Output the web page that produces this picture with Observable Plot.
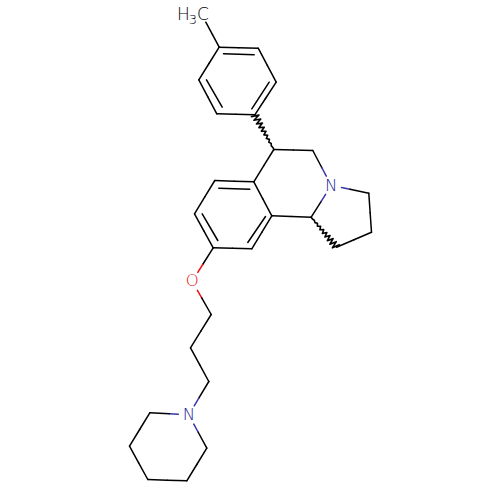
<!DOCTYPE html>
<html>
<head>
<meta charset="utf-8">
<style>html,body{margin:0;padding:0;background:#fff}</style>
<script src="https://cdn.jsdelivr.net/npm/d3@7"></script>
<script src="https://cdn.jsdelivr.net/npm/@observablehq/plot@0.6"></script>
</head>
<body>
<div id="chart"></div>
<script>
// Atoms (image coordinates)
const atomIds = ["Me","a1","a2","a3","a4","a5","a6","c6","c5","n1","c3","c2","c1","c10b","c10a","c6a","c7","c8","c9","c10","o","p1","p2","p3","n2","q1","q2","q3","q4","q5"];
const atomX = [205.3,218.7,257.7,275.7,254.3,216.3,198.3,273.3,312.3,330.7,368.3,371,336,310.7,271.3,253.3,214.3,194,212.7,251.3,191.7,210.7,190,208.3,188.3,149.3,129,147.3,186.3,206.3];
const atomY = [21.7,46.7,47.7,81.7,114.3,113.3,79.3,149,150,185,192.7,231.7,246.7,216.7,215.3,181.3,180,213.3,247.3,248.3,280.7,314,347.3,381,414.3,412.3,445.7,479,480.3,447.7];
const bondPairs = [
  ["Me","a1"],["a1","a2"],["a2","a3"],["a3","a4"],["a4","a5"],["a5","a6"],["a6","a1"],
  ["c6","c5"],["c5","n1"],["n1","c3"],["c3","c2"],["c2","c1"],["c10b","n1"],
  ["c10b","c10a"],["c10a","c6a"],["c6a","c6"],["c6a","c7"],["c7","c8"],["c8","c9"],["c9","c10"],["c10","c10a"],
  ["c9","o"],["o","p1"],["p1","p2"],["p2","p3"],["p3","n2"],
  ["n2","q1"],["q1","q2"],["q2","q3"],["q3","q4"],["q4","q5"],["q5","n2"]
];
const hashedPairs = [["c6","a4"],["c10b","c1"]];
// Inner lines of double bonds: x1, y1, x2, y2
const innerX1 = [223,206,268.7,218.3,201.7,265];
const innerY1 = [53.3,79.3,81.7,187.7,213.3,216];
const innerX2 = [253.7,221.7,251.3,249.3,217.3,247.3];
const innerY2 = [54.3,106.7,108.3,188.7,240,242];
const labelAtoms = ["n1","o","n2"];
const labelText = ["N","O","N"];
const labelColor = ["#1c1c98","#f00000","#1c1c98"];
const methylParts = ["H","3","C"];
const methylX = [183,192.5,202.5];
const methylY = [14.5,19.5,14.5];
const methylSize = [17,13,17];

const INK = "#000000";
const atom = Object.fromEntries(atomIds.map((id,i)=>[id,{x:atomX[i],y:atomY[i]}]));
const colorOf = Object.fromEntries(labelAtoms.map((id,i)=>[id,labelColor[i]]));
const lineColor = {n1:"#3636a8",n2:"#3636a8",o:"#f01010"};
const GAP = 10.5;
const segments = [];
function endpoint(from,to){
  const dx=to.x-from.x, dy=to.y-from.y, d=Math.hypot(dx,dy);
  return {x:from.x+dx*GAP/d,y:from.y+dy*GAP/d};
}
for (const [a,b] of bondPairs){
  const A=atom[a],B=atom[b],m={x:(A.x+B.x)/2,y:(A.y+B.y)/2};
  const sa=colorOf[a]?endpoint(A,B):A;
  const sb=colorOf[b]?endpoint(B,A):B;
  segments.push({x1:sa.x,y1:sa.y,x2:m.x,y2:m.y,c:lineColor[a]||INK});
  segments.push({x1:m.x,y1:m.y,x2:sb.x,y2:sb.y,c:lineColor[b]||INK});
}
innerX1.forEach((_,i)=>segments.push({x1:innerX1[i],y1:innerY1[i],x2:innerX2[i],y2:innerY2[i],c:INK}));
// Hashed stereo bonds drawn as a zigzag widening from narrow to wide atom
const zig=[];
hashedPairs.forEach(([a,b],k)=>{
  const A=atom[a],B=atom[b],dx=B.x-A.x,dy=B.y-A.y,d=Math.hypot(dx,dy);
  const nx=-dy/d,ny=dx/d,n=18;
  for(let i=0;i<=n;i++){
    const t=i/n,s=(i%2?1:-1)*(i===0?0:3.8*t);
    zig.push({k,x:A.x+dx*t+nx*s,y:A.y+dy*t+ny*s});
  }
});
const labels=labelAtoms.map((id,i)=>({x:atom[id].x,y:atom[id].y,t:labelText[i],c:labelColor[i]}));
const methyl=methylParts.map((t,i)=>({t,x:methylX[i],y:methylY[i],s:methylSize[i]}));
const FONT="'DejaVu Sans', sans-serif";
const plot=Plot.plot({
  width:500,height:500,margin:0,
  style:{background:"#fff"},
  x:{domain:[0,500],range:[0,500],axis:null},
  y:{domain:[0,500],range:[0,500],axis:null},
  marks:[
    Plot.link(segments,{x1:"x1",y1:"y1",x2:"x2",y2:"y2",stroke:"c",strokeWidth:1.5,strokeLinecap:"round"}),
    Plot.line(zig,{x:"x",y:"y",z:"k",stroke:INK,strokeWidth:1.6,curve:"linear"}),
    Plot.text(labels,{x:"x",y:"y",text:"t",fill:"c",fontSize:16.5,fontFamily:FONT,fontWeight:200,textAnchor:"middle",lineAnchor:"middle"}),
    Plot.text(methyl,{x:"x",y:"y",text:"t",fill:INK,fontSize:"s",fontFamily:FONT,fontWeight:200,textAnchor:"middle",lineAnchor:"middle"})
  ]
});
document.getElementById("chart").appendChild(plot);
</script>
</body>
</html>
